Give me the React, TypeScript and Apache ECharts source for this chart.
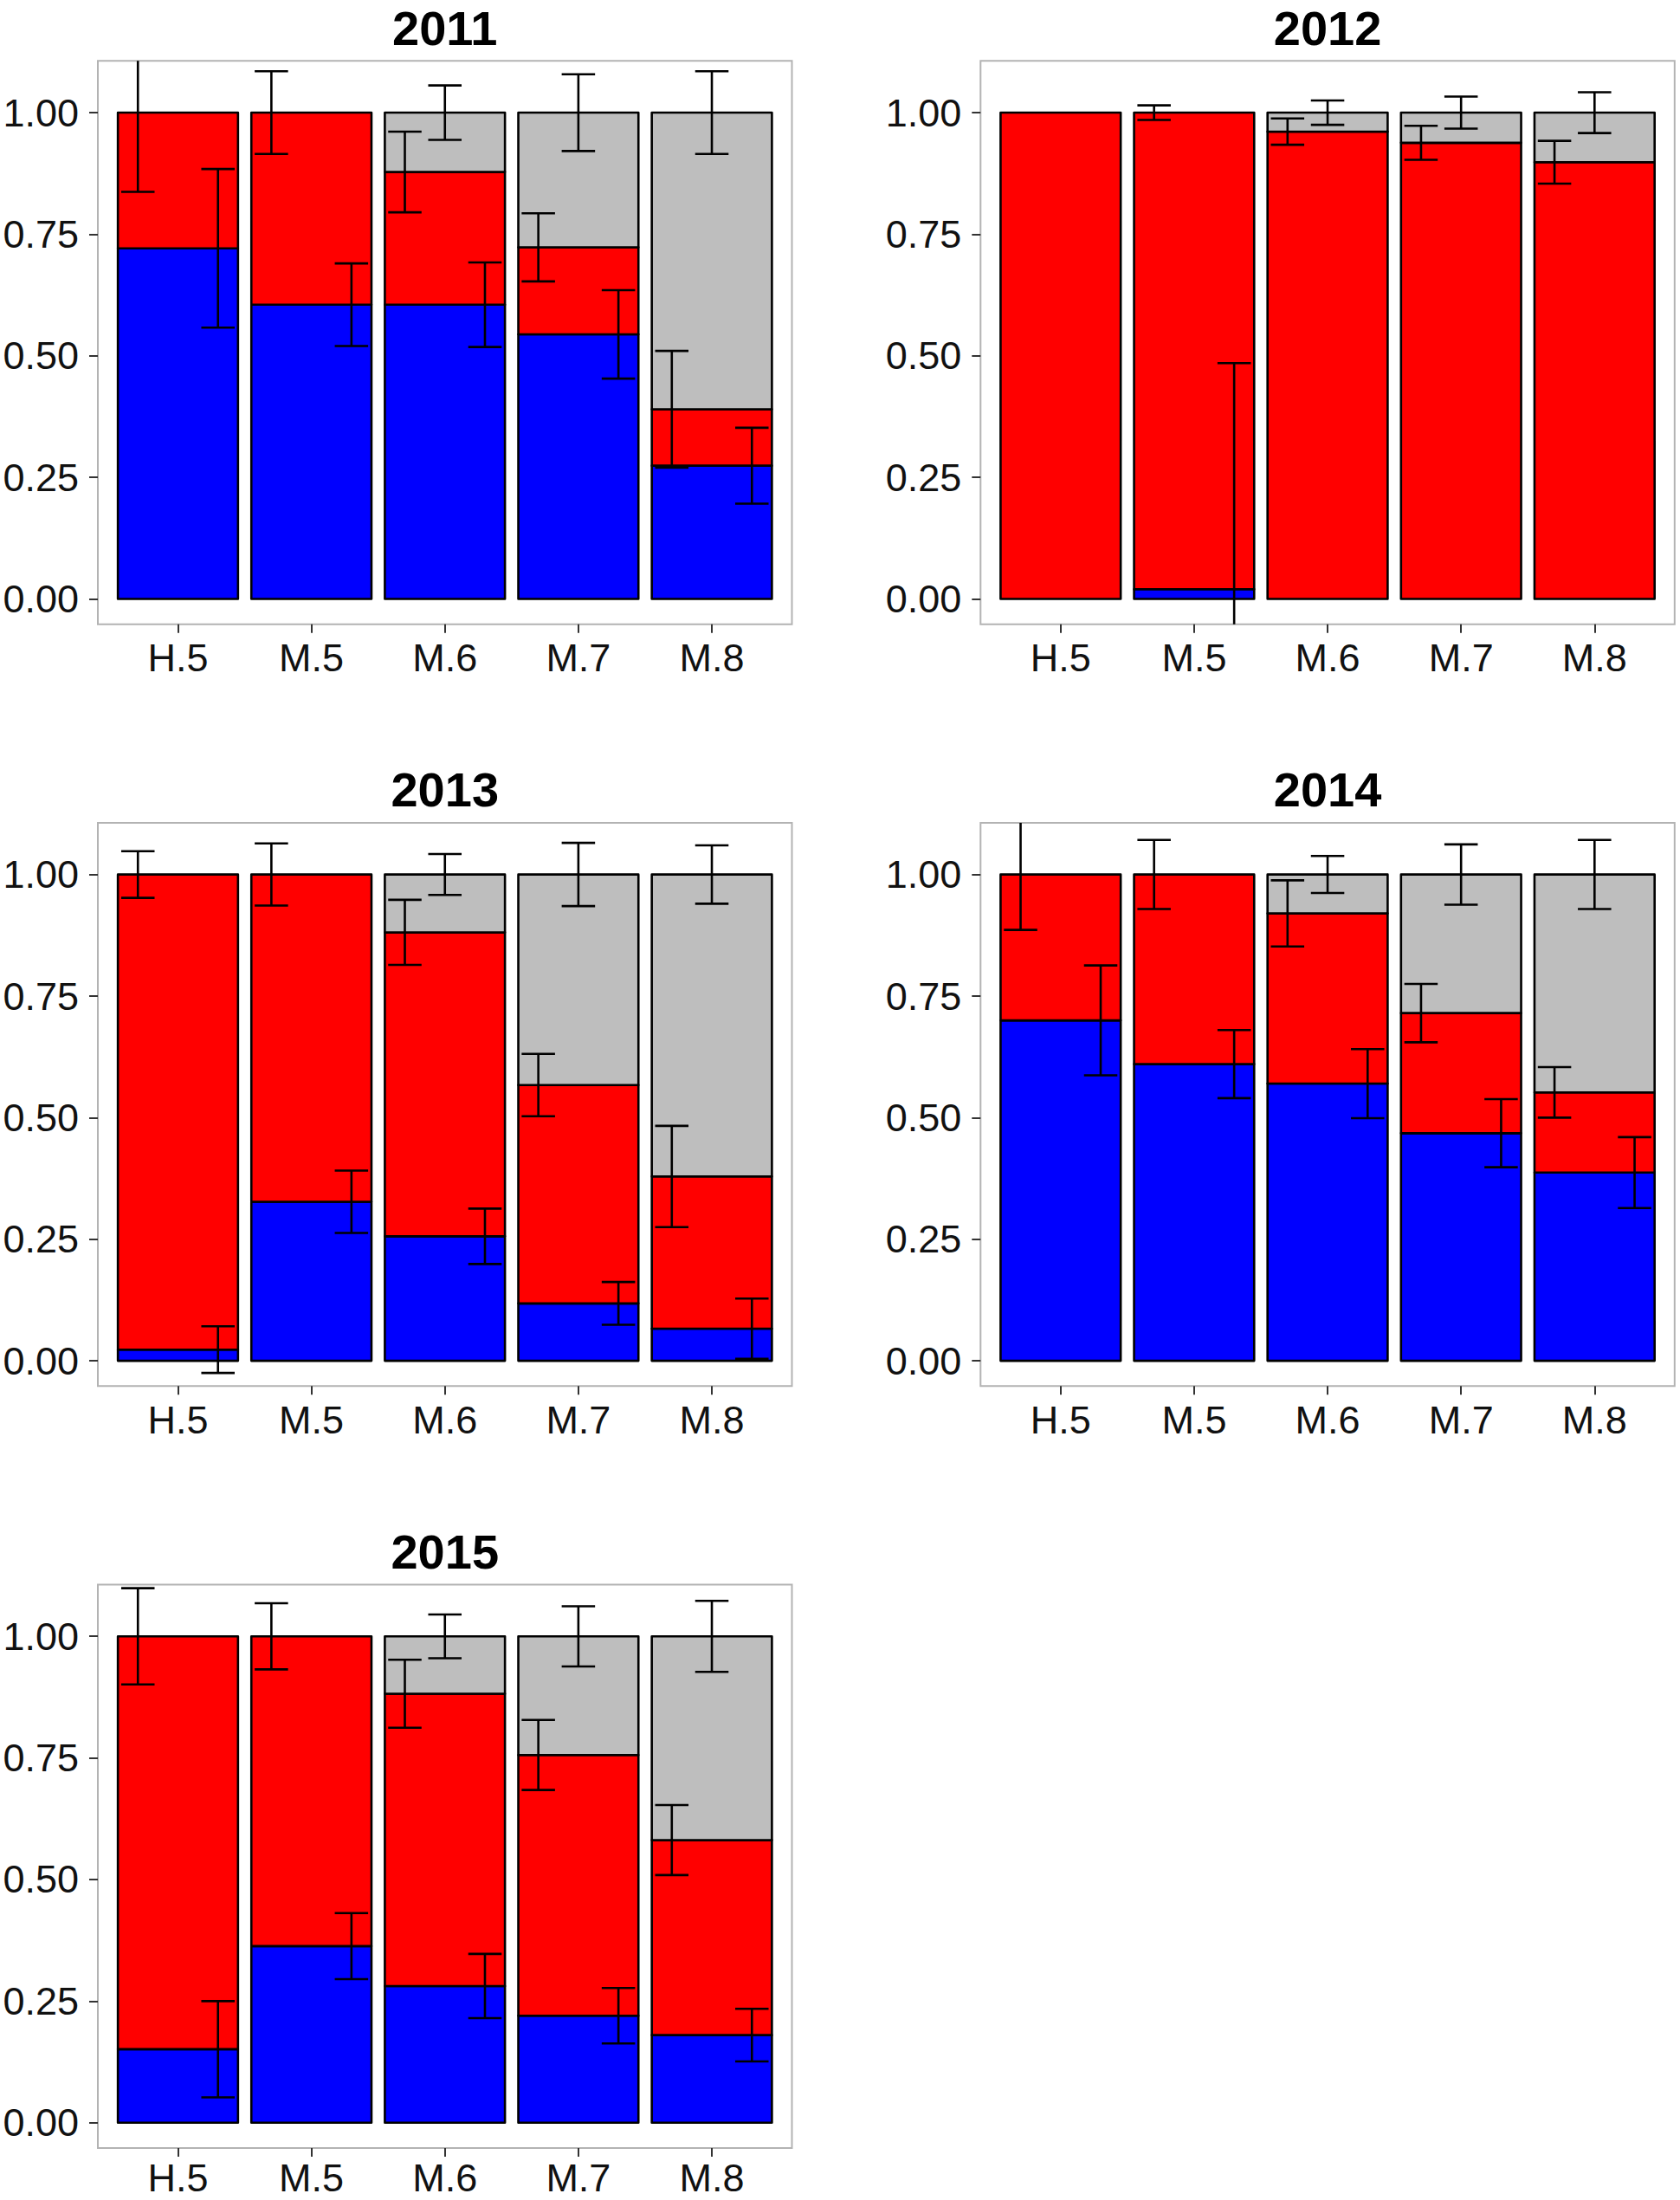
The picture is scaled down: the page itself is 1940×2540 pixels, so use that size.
import React, { useEffect, useRef } from "react";
import * as echarts from "echarts";

// ---------- data ----------
const categories = ["H.5", "M.5", "M.6", "M.7", "M.8"];
const years = ["2011", "2012", "2013", "2014", "2015"];
const yTickValues = [0, 0.25, 0.5, 0.75, 1];
const xTickValues = [1, 2, 3, 4, 5];

// stacked proportions (bottom: blue, middle: red, top: grey)
const blue2011 = [0.721, 0.605, 0.605, 0.544, 0.274];
const red2011 = [0.279, 0.395, 0.273, 0.179, 0.116];
const grey2011 = [0, 0, 0.122, 0.277, 0.61];
const blueErr2011 = [0.163, 0.085, 0.087, 0.091, 0.078];
const redErr2011 = [0.163, 0.085, 0.083, 0.07, 0.12];
const greyErr2011 = [0, 0, 0.056, 0.079, 0.085];

const blue2012 = [0, 0.02, 0, 0, 0];
const red2012 = [1.0, 0.98, 0.961, 0.938, 0.898];
const grey2012 = [0, 0, 0.039, 0.062, 0.102];
const blueErr2012 = [0, 0.465, 0, 0, 0];
const redErr2012 = [0, 0.015, 0.027, 0.035, 0.044];
const greyErr2012 = [0, 0, 0.025, 0.033, 0.042];

const blue2013 = [0.023, 0.327, 0.256, 0.118, 0.066];
const red2013 = [0.977, 0.673, 0.625, 0.449, 0.313];
const grey2013 = [0, 0, 0.119, 0.433, 0.621];
const blueErr2013 = [0.048, 0.064, 0.057, 0.044, 0.062];
const redErr2013 = [0.048, 0.064, 0.067, 0.064, 0.104];
const greyErr2013 = [0, 0, 0.042, 0.065, 0.06];

const blue2014 = [0.7, 0.61, 0.57, 0.468, 0.387];
const red2014 = [0.3, 0.39, 0.35, 0.247, 0.165];
const grey2014 = [0, 0, 0.08, 0.285, 0.448];
const blueErr2014 = [0.113, 0.07, 0.071, 0.07, 0.073];
const redErr2014 = [0.114, 0.071, 0.068, 0.06, 0.052];
const greyErr2014 = [0, 0, 0.038, 0.062, 0.071];

const blue2015 = [0.151, 0.363, 0.281, 0.22, 0.18];
const red2015 = [0.849, 0.637, 0.601, 0.536, 0.401];
const grey2015 = [0, 0, 0.118, 0.244, 0.419];
const blueErr2015 = [0.099, 0.068, 0.066, 0.057, 0.054];
const redErr2015 = [0.099, 0.068, 0.07, 0.072, 0.072];
const greyErr2015 = [0, 0, 0.045, 0.062, 0.073];

const panels = [
  { year: years[0], blue: blue2011, red: red2011, grey: grey2011, be: blueErr2011, re: redErr2011, ge: greyErr2011 },
  { year: years[1], blue: blue2012, red: red2012, grey: grey2012, be: blueErr2012, re: redErr2012, ge: greyErr2012 },
  { year: years[2], blue: blue2013, red: red2013, grey: grey2013, be: blueErr2013, re: redErr2013, ge: greyErr2013 },
  { year: years[3], blue: blue2014, red: red2014, grey: grey2014, be: blueErr2014, re: redErr2014, ge: greyErr2014 },
  { year: years[4], blue: blue2015, red: red2015, grey: grey2015, be: blueErr2015, re: redErr2015, ge: greyErr2015 },
];

// ---------- style / layout ----------
const FONT = '"Liberation Sans", Arial, Helvetica, sans-serif';
const BLUE = "#0000FF";
const RED = "#FF0000";
const GREY = "#BEBEBE";
const PANEL_W = 801.5;
const PANEL_H = 650.4;
const LEFT0 = 113;
const TOP0 = 70.3;
const COL_STEP = 1019.3;
const ROW_STEP = 879.6;
const BAR_HALF = 0.45;
const DODGE = 0.3;
const CAP_HALF = 0.125;
const LW = 2.6;

function buildOption() {
  const grid: any[] = [];
  const xAxis: any[] = [];
  const yAxis: any[] = [];
  const series: any[] = [];
  const graphic: any[] = [];

  panels.forEach((p, idx) => {
    const col = idx % 2;
    const row = Math.floor(idx / 2);
    const left = LEFT0 + col * COL_STEP;
    const top = TOP0 + row * ROW_STEP;
    grid.push({
      left,
      top,
      width: PANEL_W,
      height: PANEL_H,
      show: true,
      borderColor: "#b3b3b3",
      borderWidth: 2,
      backgroundColor: "transparent",
      containLabel: false,
    });
    xAxis.push({
      type: "value",
      gridIndex: idx,
      min: 0.4,
      max: 5.6,
      axisLine: { show: false, onZero: false },
      splitLine: { show: false },
      axisTick: {
        show: true,
        customValues: xTickValues,
        length: 10,
        lineStyle: { color: "#333333", width: 2 },
      },
      axisLabel: {
        customValues: xTickValues,
        formatter: (v: number) => categories[Math.round(v) - 1] ?? "",
        fontSize: 45,
        lineHeight: 40,
        color: "#111111",
        fontFamily: FONT,
        margin: row === 2 ? 15 : 19,
      },
    });
    yAxis.push({
      type: "value",
      gridIndex: idx,
      min: -0.052,
      max: 1.1064,
      axisLine: { show: false, onZero: false },
      splitLine: { show: false },
      axisTick: {
        show: true,
        customValues: yTickValues,
        length: 10,
        lineStyle: { color: "#333333", width: 2 },
      },
      axisLabel: {
        customValues: yTickValues,
        formatter: (v: number) => v.toFixed(2),
        fontSize: 45,
        color: "#111111",
        fontFamily: FONT,
        margin: 22,
      },
    });
    series.push({
      type: "custom",
      xAxisIndex: idx,
      yAxisIndex: idx,
      clip: true,
      data: categories.map((c, i) => [i + 1, p.blue[i], p.red[i], p.grey[i], p.be[i], p.re[i], p.ge[i]]),
      renderItem: (params: any, api: any) => {
        const x = api.value(0);
        const b = api.value(1);
        const r = api.value(2);
        const g = api.value(3);
        const be = api.value(4);
        const re = api.value(5);
        const ge = api.value(6);
        const children: any[] = [];
        const seg = (y0: number, y1: number, color: string) => {
          const p0 = api.coord([x - BAR_HALF, y1]);
          const p1 = api.coord([x + BAR_HALF, y0]);
          children.push({
            type: "rect",
            shape: { x: p0[0], y: p0[1], width: p1[0] - p0[0], height: p1[1] - p0[1] },
            style: { fill: color, stroke: "#000", lineWidth: LW, lineJoin: "round" },
          });
        };
        if (b > 0) seg(0, b, BLUE);
        if (r > 0) seg(b, b + r, RED);
        if (g > 0) seg(b + r, b + r + g, GREY);
        const lineStyle = { stroke: "#000", lineWidth: LW, lineCap: "butt" };
        const eb = (cx: number, cy: number, e: number) => {
          if (!(e > 0)) return;
          const t = api.coord([cx, cy + e]);
          const bt = api.coord([cx, cy - e]);
          const l = api.coord([cx - CAP_HALF, cy])[0];
          const rr = api.coord([cx + CAP_HALF, cy])[0];
          children.push({ type: "line", shape: { x1: t[0], y1: t[1], x2: bt[0], y2: bt[1] }, style: lineStyle });
          children.push({ type: "line", shape: { x1: l, y1: t[1], x2: rr, y2: t[1] }, style: lineStyle });
          children.push({ type: "line", shape: { x1: l, y1: bt[1], x2: rr, y2: bt[1] }, style: lineStyle });
        };
        if (r > 0) eb(x - DODGE, b + r, re);
        if (g > 0) eb(x, b + r + g, ge);
        if (b > 0) eb(x + DODGE, b, be);
        return { type: "group", children };
      },
    });
    graphic.push({
      type: "text",
      x: left + PANEL_W / 2,
      y: top - 38,
      style: {
        text: p.year,
        font: `bold 56px ${FONT}`,
        lineHeight: 56,
        fill: "#000",
        textAlign: "center",
        textVerticalAlign: "middle",
      },
    });
  });

  return {
    animation: false,
    backgroundColor: "#ffffff",
    grid,
    xAxis,
    yAxis,
    series,
    graphic,
  };
}

export default function App() {
  const ref = useRef<HTMLDivElement>(null);
  useEffect(() => {
    if (!ref.current) return;
    const chart = echarts.init(ref.current, undefined, { renderer: "svg" });
    chart.setOption(buildOption() as any);
    return () => {
      chart.dispose();
    };
  }, []);
  return (
    <div
      ref={ref}
      style={{ position: "absolute", left: 0, top: 0, width: 1940, height: 2540, background: "#fff" }}
    />
  );
}
